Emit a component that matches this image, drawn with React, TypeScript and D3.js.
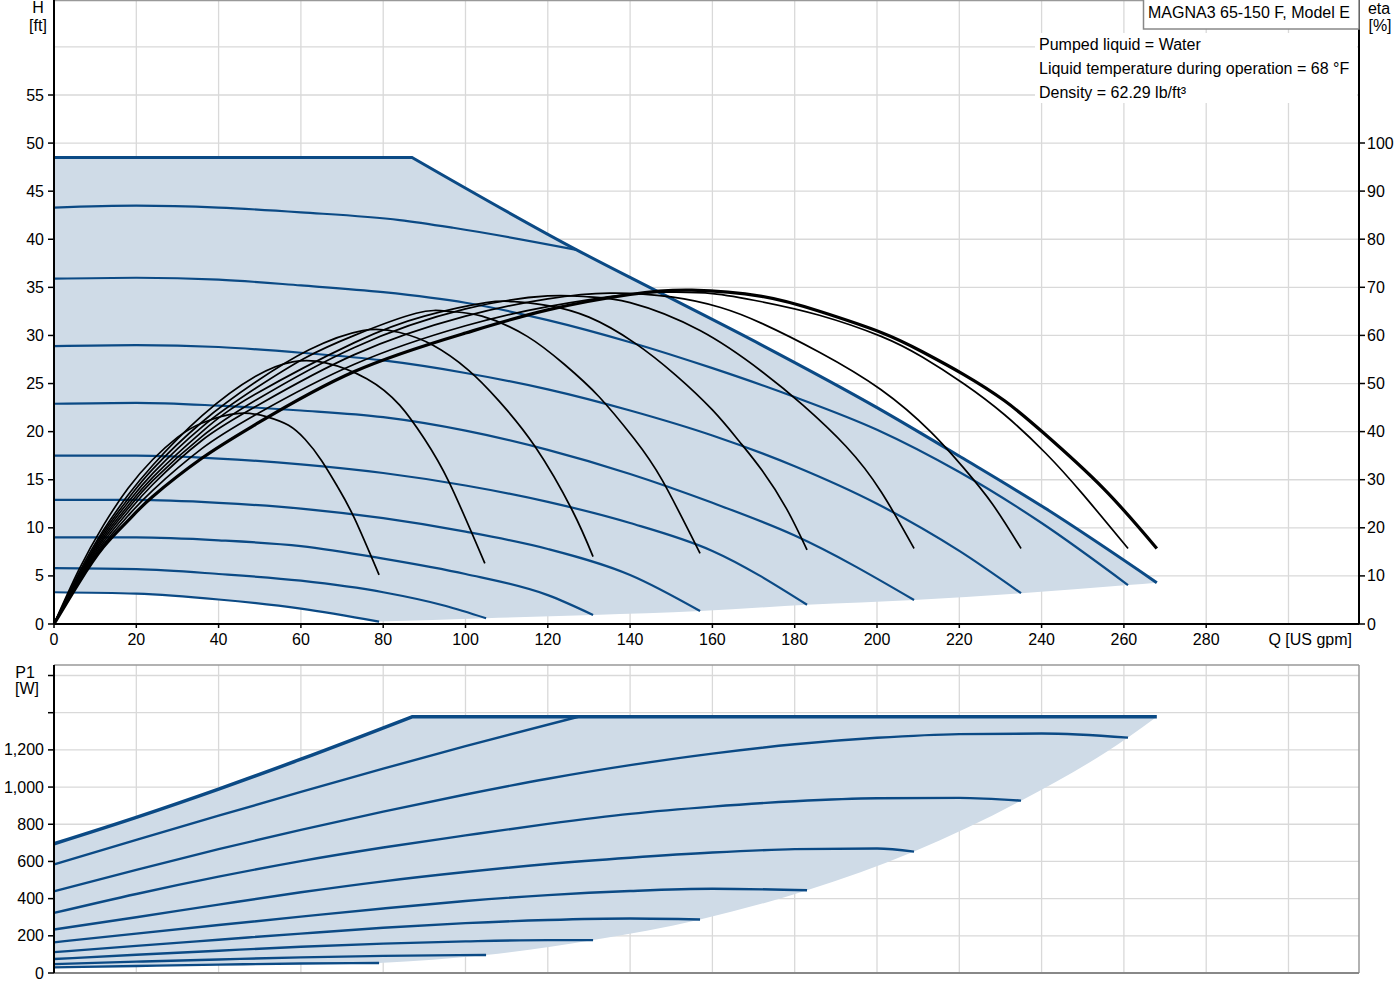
import React from "react";
import * as d3 from "d3";

type Pt = [number, number];

// ---- tick / label data ----
const xTickValues = d3.range(0, 281, 20);
const xGridValues = d3.range(20, 301, 20);
const headTicks = d3.range(0, 56, 5);
const headGrid = d3.range(5, 61, 5);
const etaTicks = d3.range(0, 101, 10);
const powerTicks = d3.range(0, 1201, 200);
const powerGrid = d3.range(200, 1601, 200);

const title = "MAGNA3 65-150 F, Model E";
const infoLines = [
  "Pumped liquid = Water",
  "Liquid temperature during operation = 68 °F",
  "Density = 62.29 lb/ft³",
];

// ---- head curves H [ft] vs Q [US gpm] ----
// max curve: flat part up to the corner, then the falling part
const headMax: Pt[] = [[0, 48.5], [87, 48.5], [127, 38.9], [147, 34.5], [172, 29.0], [200, 22.5], [221, 17.2], [241, 12.0], [268, 4.3]];
const head2: Pt[] = [[0, 43.3], [20, 43.5], [40, 43.3], [60, 42.8], [84, 42.0], [97, 41.2], [127, 38.9]];
const head3: Pt[] = [[0, 35.9], [20, 36.0], [40, 35.8], [60, 35.2], [80, 34.5], [100, 33.4], [120, 31.6], [140, 29.3], [160, 26.6], [180, 23.6], [200, 20.2], [220, 15.8], [240, 10.5], [261, 4.05]];
const head4: Pt[] = [[0, 28.9], [20, 29.0], [40, 28.8], [60, 28.2], [80, 27.4], [100, 26.1], [120, 24.4], [140, 22.2], [160, 19.6], [180, 16.4], [200, 12.5], [220, 7.6], [235, 3.2]];
const head5: Pt[] = [[0, 22.9], [20, 23.0], [40, 22.7], [60, 22.2], [80, 21.5], [100, 20.1], [120, 18.1], [140, 15.6], [160, 12.6], [180, 9.2], [209, 2.5]];
const head6: Pt[] = [[0, 17.5], [20, 17.5], [40, 17.2], [60, 16.6], [80, 15.7], [100, 14.4], [120, 12.7], [140, 10.5], [160, 7.6], [183, 2.0]];
const head7: Pt[] = [[0, 12.9], [20, 12.9], [40, 12.6], [60, 12.0], [80, 11.0], [100, 9.6], [120, 7.8], [140, 5.1], [157, 1.35]];
const head8: Pt[] = [[0, 9.0], [20, 9.0], [40, 8.7], [60, 8.1], [80, 6.8], [100, 5.2], [120, 3.0], [131, 0.94]];
const head9: Pt[] = [[0, 5.8], [20, 5.7], [40, 5.2], [60, 4.5], [80, 3.3], [95, 1.9], [105, 0.6]];
const head10: Pt[] = [[0, 3.3], [20, 3.15], [40, 2.55], [60, 1.6], [79, 0.25]];

// ---- efficiency curves eta [%] ----
const etaMax: Pt[] = [[0, 0], [6, 8.5], [12, 16], [18, 21.5], [24, 26.5], [36, 34.5], [49, 41.5], [73, 52.5], [100, 60.5], [120, 65.3], [140, 68.5], [155, 69.4], [172, 68.1], [186, 65.0], [201, 60.6], [211, 56.6], [221, 51.9], [231, 46.4], [240.5, 39.7], [255, 28.2], [268, 15.7]];
const eta261: Pt[] = [[0, 0], [6, 8.8], [12, 16.5], [18, 22.5], [24, 27.8], [36, 36.5], [49, 43.5], [73, 54], [100, 62], [120, 66], [140, 68.6], [150, 69], [160, 68.7], [172, 67], [186, 64.2], [201, 59.8], [211, 55.5], [221, 50], [231, 43.5], [241, 35.5], [250, 27], [261, 15.7]];
const eta235: Pt[] = [[0, 0], [6, 9], [12, 17], [18, 23.3], [24, 29], [36, 38.2], [49, 45.2], [73, 56], [100, 64], [120, 67.6], [135, 68.8], [150, 68], [162, 65.8], [172, 62.5], [186, 56.5], [201, 48.7], [213, 40], [221, 32.5], [228, 25], [235, 15.7]];
const eta209: Pt[] = [[0, 0], [6, 9.2], [12, 17.5], [18, 24], [24, 29.8], [36, 39], [49, 46.5], [73, 57.5], [100, 65.5], [120, 68.2], [130, 68], [140, 66.8], [157, 61], [172, 52.5], [182, 45.5], [192.5, 36.9], [201, 27.5], [209, 15.7]];
const eta183: Pt[] = [[0, 0], [6, 9.5], [12, 18], [18, 24.6], [24, 30.5], [36, 40], [49, 47.8], [73, 58.5], [90, 64], [105, 66.8], [112, 67], [120, 66.2], [130, 63.8], [141, 58.5], [151, 51.8], [160, 44.5], [166.5, 38], [172, 32], [178, 24], [183, 15.4]];
const eta157: Pt[] = [[0, 0], [6, 9.8], [12, 18.5], [18, 25.3], [24, 31.3], [36, 41], [49, 49], [61, 55.3], [73, 60], [88, 64.6], [96, 65], [104, 64], [115, 59.8], [124, 54], [132.4, 47.3], [141, 38.5], [147.8, 29.9], [157, 14.7]];
const eta131: Pt[] = [[0, 0], [6, 10], [12, 19], [18, 26], [24, 32.2], [36, 42], [49, 50.3], [62, 57], [75, 61], [84, 60.6], [92, 58], [100.7, 52.8], [108, 46.5], [116.9, 36.9], [125.9, 23.7], [131, 14]];
const eta105: Pt[] = [[0, 0], [6, 10.5], [12, 19.5], [18, 26.8], [24, 33], [36, 43.3], [49, 51.5], [58, 54.5], [66, 54.3], [76, 51], [84, 45.5], [90, 38.5], [96, 29.5], [104.7, 12.6]];
const eta79: Pt[] = [[0, 0], [6, 11.2], [12, 20.5], [18, 28.2], [24, 34.2], [30, 38.8], [36, 41.8], [45, 43.8], [52, 43.0], [57, 41.3], [61, 38.4], [65, 34], [69, 28.4], [73, 22], [79, 10.2]];

// ---- power curves P1 [W] ----
const powerMax: Pt[] = [[0, 695], [20, 837], [40, 989], [60, 1150], [87, 1378], [268, 1378]];
const power2: Pt[] = [[0, 584], [20, 716], [40, 846], [60, 974], [80, 1099], [100, 1220], [127.4, 1378]];
const power3: Pt[] = [[0, 439], [20, 555], [40, 666], [60, 770], [80, 868], [100, 960], [120, 1045], [140, 1118], [160, 1180], [180, 1230], [200, 1265], [220, 1285], [240, 1288], [261, 1266]];
const power4: Pt[] = [[0, 323], [20, 425], [40, 518], [60, 602], [80, 675], [100, 740], [120, 802], [140, 856], [160, 895], [180, 924], [200, 940], [220, 942], [235, 927]];
const power5: Pt[] = [[0, 234], [20, 300], [40, 368], [60, 434], [80, 493], [100, 543], [120, 586], [140, 620], [160, 648], [180, 666], [200, 670], [209, 653]];
const power6: Pt[] = [[0, 165], [20, 212], [40, 258], [60, 303], [80, 347], [100, 387], [120, 419], [140, 441], [160, 453], [183, 445]];
const power7: Pt[] = [[0, 112], [20, 146], [40, 179], [60, 212], [80, 243], [100, 268], [120, 285], [140, 293], [157, 288]];
const power8: Pt[] = [[0, 75], [20, 98], [40, 120], [60, 141], [80, 158], [100, 170], [120, 177], [131, 177]];
const power9: Pt[] = [[0, 48], [20, 61], [40, 73], [60, 84], [80, 92], [105, 97]];
const power10: Pt[] = [[0, 30], [20, 38], [40, 45], [60, 51], [79, 54]];

const headThin = [head2, head3, head4, head5, head6, head7, head8, head9, head10];
const etaThin = [eta261, eta235, eta209, eta183, eta157, eta131, eta105, eta79];
const powerThin = [power2, power3, power4, power5, power6, power7, power8, power9, power10];

const lastOf = (c: Pt[]) => c[c.length - 1];
// outer boundary through the curve end points (lowest speed first)
const headEnds = [head10, head9, head8, head7, head6, head5, head4, head3, headMax].map(lastOf);
const powerEnds = [power10, power9, power8, power7, power6, power5, power4, power3, powerMax].map(lastOf);

// ---- scales ----
const x = d3.scaleLinear().domain([0, 300]).range([54, 1288.5]);
const yH = d3.scaleLinear().domain([0, 55]).range([624, 95]);
const yEta = d3.scaleLinear().domain([0, 100]).range([624, 143]);
const yP = d3.scaleLinear().domain([0, 1400]).range([973, 712.7]);

const LEFT = 54;
const RIGHT = 1359;
const TOP_Y = 0.5;
const BASE_Y = 624;
const P_TOP = 665;
const P_BASE = 973;

const BLUE = "#0b4a85";
const FILL = "#cfdbe7";
const GRID = "#d9d9d9";
const FONT = "Liberation Sans, Arial, Helvetica, sans-serif";

const lineH = d3.line<Pt>().x((d) => x(d[0])).y((d) => yH(d[1])).curve(d3.curveMonotoneX);
const lineHLin = d3.line<Pt>().x((d) => x(d[0])).y((d) => yH(d[1]));
const lineEta = d3.line<Pt>().x((d) => x(d[0])).y((d) => yEta(d[1])).curve(d3.curveNatural);
const lineP = d3.line<Pt>().x((d) => x(d[0])).y((d) => yP(d[1])).curve(d3.curveMonotoneX);
const linePLin = d3.line<Pt>().x((d) => x(d[0])).y((d) => yP(d[1]));

// glue several path strings into one
const joinOpen = (...parts: string[]) =>
  parts.map((p, i) => (i === 0 ? p : "L" + p.slice(1))).join("");
const joinPaths = (...parts: string[]) => joinOpen(...parts) + "Z";

// max head: flat segment (straight) + falling part (smooth)
const headMaxPath = joinOpen(lineHLin(headMax.slice(0, 2))!, lineH(headMax.slice(1))!);
const headMaxBack = joinOpen(lineH(headMax.slice(1).reverse())!, lineHLin(headMax.slice(0, 2).reverse())!);
// max power: rising part (smooth) + flat segment (straight)
const powerMaxPath = joinOpen(lineP(powerMax.slice(0, 5))!, linePLin(powerMax.slice(4))!);
const powerMaxBack = joinOpen(linePLin(powerMax.slice(4).reverse())!, lineP(powerMax.slice(0, 5).reverse())!);

const headFill = joinPaths(lineH(head10)!, lineH(headEnds)!, headMaxBack);
const powerFill = joinPaths(lineP(power10)!, lineP(powerEnds)!, powerMaxBack);

const fmtPower = d3.format(",");

const App: React.FC = () => {
  return (
    <svg
      width={1400}
      height={1000}
      style={{ position: "absolute", left: 0, top: 0, background: "#fff" }}
      fontFamily={FONT}
      fontSize={16}
    >
      {/* ===== top panel: head / efficiency ===== */}
      <g>
        {xGridValues.map((v) => (
          <line key={"xg" + v} x1={x(v)} x2={x(v)} y1={TOP_Y} y2={BASE_Y} stroke={GRID} strokeWidth={1.3} />
        ))}
        {headGrid.map((v) => (
          <line key={"hg" + v} x1={LEFT} x2={RIGHT} y1={yH(v)} y2={yH(v)} stroke={GRID} strokeWidth={1.3} />
        ))}

        <path d={headFill} fill={FILL} stroke="none" />

        {headThin.map((c, i) => (
          <path key={"h" + i} d={lineH(c)!} fill="none" stroke={BLUE} strokeWidth={2.2} />
        ))}
        <path d={headMaxPath} fill="none" stroke={BLUE} strokeWidth={3} />

        {etaThin.map((c, i) => (
          <path key={"e" + i} d={lineEta(c)!} fill="none" stroke="#000" strokeWidth={1.7} />
        ))}
        <path d={lineEta(etaMax)!} fill="none" stroke="#000" strokeWidth={3.2} />

        {/* frame */}
        <line x1={LEFT} x2={RIGHT} y1={TOP_Y} y2={TOP_Y} stroke="#999" strokeWidth={1.5} />
        <line x1={LEFT} x2={LEFT} y1={0} y2={BASE_Y} stroke="#000" strokeWidth={2} />
        <line x1={RIGHT} x2={RIGHT} y1={0} y2={BASE_Y} stroke="#000" strokeWidth={2} />
        <line x1={LEFT} x2={RIGHT} y1={BASE_Y} y2={BASE_Y} stroke="#000" strokeWidth={2} />

        {/* left axis */}
        {headTicks.map((v) => (
          <g key={"ht" + v}>
            <line x1={LEFT - 6} x2={LEFT} y1={yH(v)} y2={yH(v)} stroke="#000" strokeWidth={1.5} />
            <text x={44} y={yH(v)} textAnchor="end" dominantBaseline="central">
              {v}
            </text>
          </g>
        ))}
        <text x={38} y={13} textAnchor="middle">H</text>
        <text x={38} y={31} textAnchor="middle">[ft]</text>

        {/* right axis */}
        {etaTicks.map((v) => (
          <g key={"et" + v}>
            <line x1={RIGHT} x2={RIGHT + 6} y1={yEta(v)} y2={yEta(v)} stroke="#000" strokeWidth={1.5} />
            <text x={RIGHT + 8} y={yEta(v)} textAnchor="start" dominantBaseline="central">
              {v}
            </text>
          </g>
        ))}
        <text x={1379} y={14} textAnchor="middle">eta</text>
        <text x={1380} y={31} textAnchor="middle">[%]</text>

        {/* x axis */}
        {xTickValues.map((v) => (
          <g key={"xt" + v}>
            <line x1={x(v)} x2={x(v)} y1={BASE_Y} y2={BASE_Y + 4} stroke="#000" strokeWidth={1.5} />
            <text x={x(v)} y={645} textAnchor="middle">
              {v}
            </text>
          </g>
        ))}
        <text x={1352} y={645} textAnchor="end">Q [US gpm]</text>

        {/* title and liquid info */}
        <rect x={1035} y={33} width={322} height={70} fill="#fff" />
        {infoLines.map((t, i) => (
          <text key={"info" + i} x={1039} y={50 + i * 24}>
            {t}
          </text>
        ))}
        <rect x={1143.5} y={-1} width={215.5} height={30} fill="#fff" stroke="#888" strokeWidth={1.5} />
        <text x={1148} y={18}>{title}</text>
      </g>

      {/* ===== bottom panel: power ===== */}
      <g>
        {xGridValues.map((v) => (
          <line key={"pxg" + v} x1={x(v)} x2={x(v)} y1={P_TOP} y2={P_BASE} stroke={GRID} strokeWidth={1.3} />
        ))}
        {powerGrid.map((v) => (
          <line key={"pg" + v} x1={LEFT} x2={RIGHT} y1={yP(v)} y2={yP(v)} stroke={GRID} strokeWidth={1.3} />
        ))}

        <path d={powerFill} fill={FILL} stroke="none" />

        {powerThin.map((c, i) => (
          <path key={"p" + i} d={lineP(c)!} fill="none" stroke={BLUE} strokeWidth={2.4} />
        ))}
        <path d={powerMaxPath} fill="none" stroke={BLUE} strokeWidth={3.5} />

        <line x1={LEFT} x2={RIGHT} y1={P_TOP} y2={P_TOP} stroke="#999" strokeWidth={1.5} />
        <line x1={RIGHT} x2={RIGHT} y1={P_TOP} y2={P_BASE} stroke="#999" strokeWidth={1.5} />
        <line x1={LEFT} x2={RIGHT} y1={P_BASE} y2={P_BASE} stroke="#888" strokeWidth={2} />
        <line x1={LEFT} x2={LEFT} y1={P_TOP} y2={P_BASE} stroke="#000" strokeWidth={2} />

        {powerGrid.concat([0]).map((v) => (
          <line key={"ptk" + v} x1={LEFT - 6} x2={LEFT} y1={yP(v)} y2={yP(v)} stroke="#000" strokeWidth={1.5} />
        ))}
        {powerTicks.map((v) => (
          <text key={"pt" + v} x={44} y={yP(v)} textAnchor="end" dominantBaseline="central">
            {fmtPower(v)}
          </text>
        ))}
        <text x={25} y={678} textAnchor="middle">P1</text>
        <text x={27} y={694} textAnchor="middle">[W]</text>
      </g>
    </svg>
  );
};

export default App;
